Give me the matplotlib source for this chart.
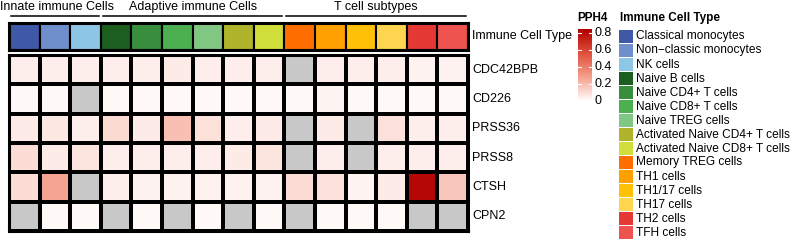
import numpy as np
import matplotlib
matplotlib.use("Agg")
import matplotlib.pyplot as plt
from matplotlib.colors import LinearSegmentedColormap
from matplotlib.patches import Rectangle

plt.rcParams['font.family'] = ['Liberation Sans', 'DejaVu Sans']

cell_types = ["Classical monocytes", "Non\u2212classic monocytes", "NK cells",
              "Naive B cells", "Naive CD4+ T cells", "Naive CD8+ T cells",
              "Naive TREG cells", "Activated Naive CD4+ T cells",
              "Activated Naive CD8+ T cells", "Memory TREG cells", "TH1 cells",
              "TH1/17 cells", "TH17 cells", "TH2 cells", "TFH cells"]
cell_colors = ["#3F58A8", "#6E8FCB", "#8EC6E6", "#1B5E20", "#388E3C", "#4CAF50",
               "#81C784", "#AFB42B", "#D0DE3A", "#FF6F00", "#FFA000", "#FFC107",
               "#FFD54F", "#E53935", "#EF5350"]
groups = ["Innate immune Cells", "Adaptive immune Cells", "T cell subtypes"]
group_sizes = [3, 6, 6]
genes = ["CDC42BPB", "CD226", "PRSS36", "PRSS8", "CTSH", "CPN2"]
nan = np.nan
pph4 = np.array([
    [0.05, 0.05, 0.05, 0.05, 0.05, 0.06, 0.05, 0.05, 0.05, nan, 0.05, 0.05, 0.05, 0.04, 0.04],
    [0.02, 0.02, nan, 0.02, 0.02, 0.02, 0.02, 0.02, 0.02, 0.02, 0.03, 0.02, 0.02, 0.02, 0.02],
    [0.06, 0.07, 0.05, 0.11, 0.06, 0.19, 0.09, 0.05, 0.06, nan, 0.06, nan, 0.09, 0.05, 0.05],
    [0.10, 0.06, 0.08, 0.05, 0.05, 0.05, 0.05, 0.06, 0.08, nan, 0.05, nan, 0.05, 0.05, 0.05],
    [0.10, 0.27, nan, 0.05, 0.04, 0.04, 0.04, 0.04, 0.04, 0.10, 0.09, 0.03, 0.06, 0.82, 0.17],
    [nan, 0.02, 0.02, nan, 0.02, nan, 0.02, nan, 0.02, nan, 0.02, 0.02, 0.02, nan, nan],
])
cbar_ticks = [0, 0.2, 0.4, 0.6, 0.8]
vmax = 0.85

W, H = 797, 240
fig = plt.figure(figsize=(W / 100, H / 100), dpi=100)

def fx(x): return x / W
def fy(y): return 1 - y / H

cmap = LinearSegmentedColormap.from_list("pph", ["#FFFFFF", "#F4A08C", "#E0503C", "#B00000"])
cmap.set_bad("#C8C8C8")

hx0, hx1 = 9, 468
# annotation row
ax_a = fig.add_axes([fx(hx0), fy(50), fx(hx1) - fx(hx0), (50 - 23) / H])
ncol = len(cell_types)
for i, c in enumerate(cell_colors):
    ax_a.add_patch(Rectangle((i, 0), 1, 1, facecolor=c, edgecolor="black", lw=1.5))
ax_a.set_xlim(0, ncol); ax_a.set_ylim(0, 1)
ax_a.set_xticks([]); ax_a.set_yticks([])
for s in ax_a.spines.values():
    s.set_linewidth(2.2)

# main heatmap
ax_h = fig.add_axes([fx(hx0), fy(231), fx(hx1) - fx(hx0), (231 - 55) / H])
data = np.ma.masked_invalid(pph4)
ax_h.pcolormesh(np.arange(ncol + 1), np.arange(len(genes) + 1), data, cmap=cmap,
                vmin=0, vmax=vmax, edgecolors="black", linewidth=1.5)
ax_h.set_xlim(0, ncol); ax_h.set_ylim(len(genes), 0)
ax_h.set_xticks([]); ax_h.set_yticks([])
for s in ax_h.spines.values():
    s.set_linewidth(2.2)

# overlay
ov = fig.add_axes([0, 0, 1, 1])
ov.set_xlim(0, W); ov.set_ylim(H, 0); ov.axis("off")

colw = (hx1 - hx0) / ncol
start = 0
for k, (g, n) in enumerate(zip(groups, group_sizes)):
    x0 = hx0 + start * colw + 2
    x1 = hx0 + (start + n) * colw - 2
    ov.plot([x0, x1], [16, 16], color="black", lw=1.1)
    cx = max((x0 + x1) / 2, 57)
    ov.text(cx, 7, g, ha="center", va="center", fontsize=9)
    start += n

ov.text(472, 36.5, "Immune Cell Type", ha="left", va="center", fontsize=9)
rowh = (231 - 55) / len(genes)
for i, g in enumerate(genes):
    ov.text(472, 55 + rowh * (i + 0.5), g, ha="left", va="center", fontsize=9)

# colorbar
ov.text(577, 18, "PPH4", ha="left", va="center", fontsize=8.5, fontweight="bold")
ax_c = fig.add_axes([fx(578), fy(101), (592 - 578) / W, (101 - 29) / H])
grad = np.linspace(0, vmax, 256).reshape(-1, 1)
ax_c.imshow(grad, aspect="auto", cmap=cmap, vmin=0, vmax=vmax, origin="lower",
            extent=[0, 1, 0, vmax])
ax_c.set_xlim(0, 1); ax_c.set_ylim(0, vmax)
ax_c.set_xticks([]); ax_c.set_yticks([])
for s in ax_c.spines.values():
    s.set_visible(False)
for t in cbar_ticks:
    ax_c.plot([0, 0.18], [t, t], color="white", lw=0.8)
    ax_c.plot([0.82, 1], [t, t], color="white", lw=0.8)
    ov.text(595, 101 - (t / vmax) * (101 - 29), f"{t:g}", ha="left", va="center", fontsize=9)

# legend
ov.text(620, 18, "Immune Cell Type", ha="left", va="center", fontsize=8.5, fontweight="bold")
for i, (lab, c) in enumerate(zip(cell_types, cell_colors)):
    yc = 36.5 + 14 * i
    ov.add_patch(Rectangle((619.5, yc - 7), 13.5, 13.5, facecolor=c, edgecolor="none"))
    ov.text(636, yc, lab, ha="left", va="center", fontsize=8.6)

fig.savefig("out.png", dpi=100)
